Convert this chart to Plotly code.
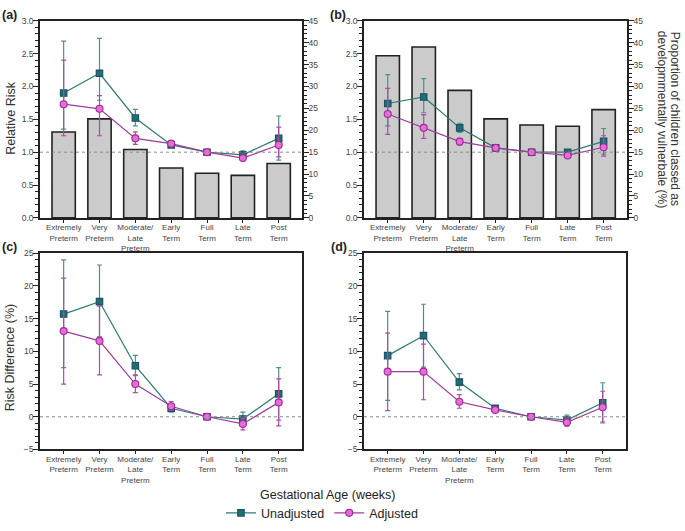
import plotly.graph_objects as go

categories = ["Extremely<br>Preterm", "Very<br>Preterm", "Moderate/<br>Late<br>Preterm",
              "Early<br>Term", "Full<br>Term", "Late<br>Term", "Post<br>Term"]

# Panel (a)
a_bars = [19.6, 22.6, 15.6, 11.4, 10.2, 9.7, 12.4]
a_unadj = [1.90, 2.20, 1.52, 1.11, 1.00, 0.96, 1.21]
a_unadj_lo = [1.35, 1.79, 1.40, 1.09, 1.00, 0.92, 0.88]
a_unadj_hi = [2.69, 2.73, 1.65, 1.14, 1.00, 1.02, 1.55]
a_adj = [1.73, 1.66, 1.21, 1.13, 1.00, 0.91, 1.11]
a_adj_lo = [1.25, 1.25, 1.12, 1.10, 1.00, 0.88, 0.93]
a_adj_hi = [2.40, 1.86, 1.31, 1.15, 1.00, 0.94, 1.38]

# Panel (b)
b_bars = [37.0, 39.0, 29.1, 22.6, 21.2, 20.9, 24.7]
b_unadj = [1.74, 1.84, 1.37, 1.065, 1.00, 1.00, 1.165]
b_unadj_lo = [1.40, 1.60, 1.30, 1.04, 1.00, 0.98, 0.97]
b_unadj_hi = [2.18, 2.12, 1.44, 1.08, 1.00, 1.02, 1.36]
b_adj = [1.58, 1.37, 1.16, 1.065, 1.00, 0.95, 1.075]
b_adj_lo = [1.27, 1.21, 1.11, 1.05, 1.00, 0.93, 0.94]
b_adj_hi = [1.97, 1.57, 1.21, 1.08, 1.00, 0.97, 1.25]

# Panel (c)
c_unadj = [15.7, 17.6, 7.8, 1.3, 0.0, -0.35, 3.5]
c_unadj_lo = [7.5, 12.2, 6.3, 0.7, 0.0, -1.4, -0.5]
c_unadj_hi = [24.0, 23.2, 9.4, 1.9, 0.0, 0.7, 7.5]
c_adj = [13.1, 11.6, 5.0, 1.6, 0.0, -1.1, 2.2]
c_adj_lo = [5.0, 6.4, 3.7, 1.0, 0.0, -2.0, -1.4]
c_adj_hi = [21.2, 16.9, 6.4, 2.3, 0.0, -0.2, 5.8]

# Panel (d)
d_unadj = [9.35, 12.4, 5.3, 1.3, 0.0, -0.5, 2.15]
d_unadj_lo = [2.5, 7.6, 4.1, 1.1, 0.0, -1.2, -0.95]
d_unadj_hi = [16.1, 17.2, 6.6, 1.5, 0.0, 0.25, 5.2]
d_adj = [6.9, 6.9, 2.3, 1.05, 0.0, -0.85, 1.45]
d_adj_lo = [0.95, 2.6, 1.3, 0.8, 0.0, -1.45, -0.8]
d_adj_hi = [12.8, 11.1, 3.4, 1.3, 0.0, -0.2, 3.9]

right_title_lines = ["Proportion of children classed as", "developmmentally vulnerbale (%)"]

TEAL_LINE = "#2b7a74"
TEAL_ERR = "#4f8f8b"
TEAL_FILL = "#1f6f6c"
TEAL_EDGE = "#1d4f6a"
MAG_LINE = "#a23a9c"
MAG_ERR = "#b24aa8"
MAG_FILL = "#e86bdb"
MAG_EDGE = "#9c2c94"
FONT = "Liberation Sans, Arial, sans-serif"

fig = go.Figure()


def add_series(xref, yref, vals, lo, hi, name, kind, showlegend):
    plus = [h - v for h, v in zip(hi, vals)]
    minus = [v - l for v, l in zip(vals, lo)]
    if kind == "unadj":
        marker = dict(symbol="square", size=6.5, color=TEAL_FILL, line=dict(color=TEAL_EDGE, width=1.1))
        line = dict(color=TEAL_LINE, width=1.2)
        err = dict(type="data", array=plus, arrayminus=minus, color=TEAL_ERR, thickness=1.2, width=2.5)
    else:
        marker = dict(symbol="circle", size=7, color=MAG_FILL, line=dict(color=MAG_EDGE, width=1.1))
        line = dict(color=MAG_LINE, width=1.2)
        err = dict(type="data", array=plus, arrayminus=minus, color=MAG_ERR, thickness=1.2, width=2.5)
    fig.add_trace(go.Scatter(x=categories, y=vals, mode="lines+markers", name=name,
                             marker=marker, line=line, error_y=err,
                             xaxis=xref, yaxis=yref, showlegend=showlegend,
                             legendgroup=name))


# Bars on base (right) axes, lines on overlaying (left) axes
fig.add_trace(go.Bar(x=categories, y=a_bars, xaxis="x", yaxis="y", width=0.65,
                     marker=dict(color="#cbcbcb", line=dict(color="#222222", width=1.6)),
                     showlegend=False))
fig.add_trace(go.Bar(x=categories, y=b_bars, xaxis="x2", yaxis="y2", width=0.65,
                     marker=dict(color="#cbcbcb", line=dict(color="#222222", width=1.6)),
                     showlegend=False))

add_series("x", "y5", a_unadj, a_unadj_lo, a_unadj_hi, "Unadjusted", "unadj", True)
add_series("x", "y5", a_adj, a_adj_lo, a_adj_hi, "Adjusted", "adj", True)
add_series("x2", "y6", b_unadj, b_unadj_lo, b_unadj_hi, "Unadjusted", "unadj", False)
add_series("x2", "y6", b_adj, b_adj_lo, b_adj_hi, "Adjusted", "adj", False)
add_series("x3", "y3", c_unadj, c_unadj_lo, c_unadj_hi, "Unadjusted", "unadj", False)
add_series("x3", "y3", c_adj, c_adj_lo, c_adj_hi, "Adjusted", "adj", False)
add_series("x4", "y4", d_unadj, d_unadj_lo, d_unadj_hi, "Unadjusted", "unadj", False)
add_series("x4", "y4", d_adj, d_adj_lo, d_adj_hi, "Adjusted", "adj", False)

W, H = 685, 531


def px_x(a, b):
    return [a / W, b / W]


def px_y(top, bottom):
    return [1 - bottom / H, 1 - top / H]


tickfont = dict(family=FONT, size=8.5, color="#444444")
xtickfont = dict(family=FONT, size=8, color="#444444")


def xax(domain, anchor):
    return dict(domain=domain, anchor=anchor, type="category", range=[-0.66, 6.65],
                showline=True, linecolor="#222222", linewidth=1.6, mirror=True,
                ticks="outside", ticklen=3, tickcolor="#222222", tickwidth=1,
                ticklabelstandoff=-2,
                tickangle=0, tickfont=xtickfont, showgrid=False, zeroline=False, fixedrange=True)


def yax(domain, anchor, rng, dtick, minor_dtick, side="left", overlaying=None, fmt=None, mirror=False):
    d = dict(domain=domain, anchor=anchor, range=rng, dtick=dtick, tick0=0, side=side,
             showline=True, linecolor="#222222", linewidth=1.6, mirror=mirror,
             ticks="outside", ticklen=5, tickcolor="#222222", tickwidth=1.2,
             ticklabelstandoff=-2,
             minor=dict(dtick=minor_dtick, ticks="outside", ticklen=3, tickcolor="#222222", tickwidth=1),
             tickfont=tickfont, showgrid=False, zeroline=False, fixedrange=True)
    if overlaying:
        d["overlaying"] = overlaying
    if fmt:
        d["tickformat"] = fmt
    return d


da = px_x(40, 302)
db = px_x(364, 627)
dc = px_x(40, 302)
dd = px_x(364, 626)
top_row = px_y(16, 217)
bot_row = px_y(253, 453)

fig.update_layout(
    width=W, height=H,
    margin=dict(l=0, r=0, t=0, b=0),
    paper_bgcolor="white", plot_bgcolor="white",
    font=dict(family=FONT, color="#222222"),
    xaxis=xax(da, "y"),
    xaxis2=xax(db, "y2"),
    xaxis3=xax(dc, "y3"),
    xaxis4=xax(dd, "y4"),
    yaxis=yax(top_row, "x", [0, 45], 5, 1, side="right"),
    yaxis2=yax(top_row, "x2", [0, 45], 5, 1, side="right"),
    yaxis5=yax(top_row, "x", [0, 3], 0.5, 0.1, side="left", overlaying="y", fmt=".1f"),
    yaxis6=yax(top_row, "x2", [0, 3], 0.5, 0.1, side="left", overlaying="y2", fmt=".1f"),
    yaxis3=yax(bot_row, "x3", [-5, 25], 5, 1, mirror=True),
    yaxis4=yax(bot_row, "x4", [-5, 25], 5, 1, mirror=True),
    legend=dict(orientation="h", x=0.47, xanchor="center", y=1 - 518 / H, yanchor="middle",
                font=dict(family=FONT, size=12.5, color="#222222"), bgcolor="rgba(0,0,0,0)",
                itemwidth=30, tracegroupgap=0),
)

shapes = []
for yref, xref, val in [("y5", "x", 1.0), ("y6", "x2", 1.0), ("y3", "x3", 0.0), ("y4", "x4", 0.0)]:
    shapes.append(dict(type="line", xref=f"{xref} domain", yref=yref, x0=0, x1=1, y0=val, y1=val,
                       line=dict(color="#8a8a8a", width=1, dash="dot"), layer="above"))
fig.update_layout(shapes=shapes)

ann = [
    dict(text="<b>(a)</b>", x=0 / W, y=1 - 10 / H, xanchor="left", yanchor="middle", font=dict(size=12.5)),
    dict(text="<b>(b)</b>", x=328 / W, y=1 - 10 / H, xanchor="left", yanchor="middle", font=dict(size=12.5)),
    dict(text="<b>(c)</b>", x=0 / W, y=1 - 247 / H, xanchor="left", yanchor="middle", font=dict(size=12.5)),
    dict(text="<b>(d)</b>", x=329 / W, y=1 - 247 / H, xanchor="left", yanchor="middle", font=dict(size=12.5)),
    dict(text="Relative Risk", x=11 / W, y=1 - 115 / H, textangle=-90, xanchor="center", yanchor="middle",
         font=dict(size=12.5, color="#333333")),
    dict(text="Risk Difference (%)", x=10 / W, y=1 - 360 / H, textangle=-90, xanchor="center", yanchor="middle",
         font=dict(size=12.5, color="#333333")),
    dict(text=right_title_lines[0], x=675 / W, y=1 - 116 / H,
         textangle=90, xanchor="center", yanchor="middle", font=dict(size=12, color="#333333")),
    dict(text=right_title_lines[1], x=662 / W, y=1 - 116 / H,
         textangle=90, xanchor="center", yanchor="middle", font=dict(size=12, color="#333333")),
    dict(text="Gestational Age (weeks)", x=328 / W, y=1 - 499 / H, xanchor="center", yanchor="middle",
         font=dict(size=12.5, color="#222222")),
]
for a in ann:
    a.update(xref="paper", yref="paper", showarrow=False)
    a["font"] = dict(family=FONT, **a["font"])
fig.update_layout(annotations=ann)

fig.write_html("out.html", config={"displayModeBar": False},
               post_script="document.body.style.margin='0px';document.body.style.overflow='hidden';")
